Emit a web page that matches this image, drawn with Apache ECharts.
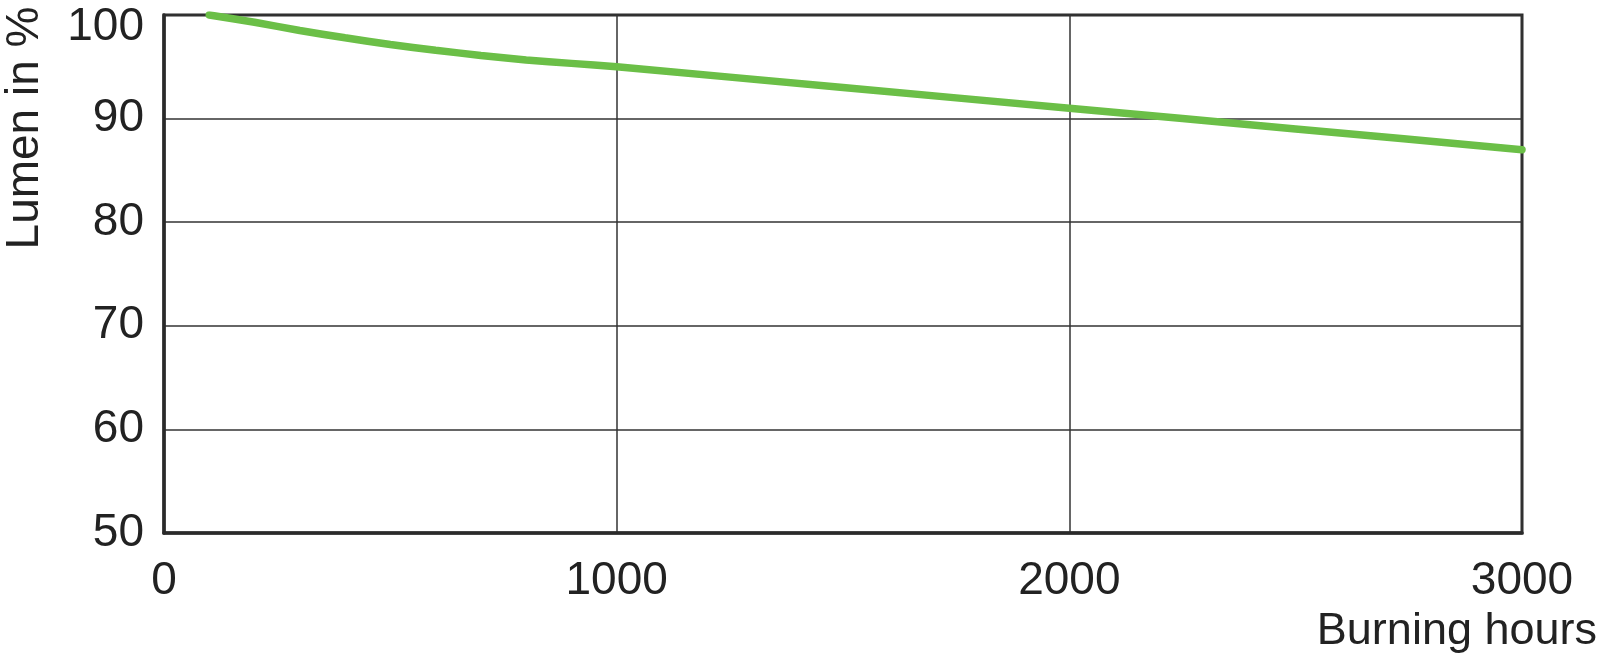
<!DOCTYPE html>
<html>
<head>
<meta charset="utf-8">
<script src="https://cdn.jsdelivr.net/npm/echarts@6/dist/echarts.min.js"></script>
<style>html,body{margin:0;padding:0;background:#fff;}#c{width:1600px;height:667px;}</style>
</head>
<body>
<div id="c"></div>
<script>
const hours = [100, 200, 300, 400, 500, 600, 700, 800, 900, 1000, 1500, 2000, 2500, 3000];
const lumen = [100, 99.3, 98.5, 97.8, 97.15, 96.6, 96.1, 95.65, 95.33, 95.0, 93.0, 91.0, 89.0, 87.0];
const xTicks = [0, 1000, 2000, 3000];
const yTicks = [50, 60, 70, 80, 90, 100];
const xName = 'Burning hours';
const yName = 'Lumen in %';

const chart = echarts.init(document.getElementById('c'), null, {renderer: 'canvas'});
const font = '"Liberation Sans", Arial, Helvetica, sans-serif';
chart.setOption({
  animation: false,
  backgroundColor: '#fff',
  grid: {left: 164, right: 78, top: 15, bottom: 134, show: true, borderColor: '#2a2a2a', borderWidth: 3,
         backgroundColor: 'transparent', containLabel: false, outerBoundsMode: 'none'},
  xAxis: {
    type: 'value', min: xTicks[0], max: xTicks[xTicks.length - 1], interval: 1000,
    axisLine: {show: true, lineStyle: {color: '#2a2a2a', width: 3.5}},
    axisTick: {show: false},
    splitLine: {show: true, lineStyle: {color: '#333', width: 1.5}},
    axisLabel: {color: '#222', fontSize: 46, fontFamily: font, margin: 25, formatter: v => String(v)}
  },
  yAxis: {
    type: 'value', min: yTicks[0], max: yTicks[yTicks.length - 1], interval: 10,
    axisLine: {show: true, lineStyle: {color: '#2a2a2a', width: 3.5}},
    axisTick: {show: false},
    splitLine: {show: true, lineStyle: {color: '#333', width: 1.5}},
    axisLabel: {
      color: '#222', fontSize: 46, fontFamily: font, margin: 20,
      formatter: v => v === yTicks[yTicks.length - 1] ? '{t|' + v + '}' : String(v),
      rich: {t: {fontSize: 46, fontFamily: font, color: '#222', padding: [24, 0, 0, 0]}}
    }
  },
  graphic: [
    {type: 'text', x: 25, y: 128, rotation: Math.PI / 2,
     style: {text: yName, fill: '#222', font: '46px ' + font, textAlign: 'center', textVerticalAlign: 'middle'}},
    {type: 'text', x: 1597, y: 632,
     style: {text: xName, fill: '#222', font: '45px ' + font, textAlign: 'right', textVerticalAlign: 'middle'}}
  ],
  series: [{
    type: 'line', smooth: 0.2, showSymbol: false,
    data: hours.map((h, i) => [h, lumen[i]]),
    lineStyle: {color: '#6bbf47', width: 7.5, cap: 'round'},
    z: 5
  }]
});
</script>
</body>
</html>
